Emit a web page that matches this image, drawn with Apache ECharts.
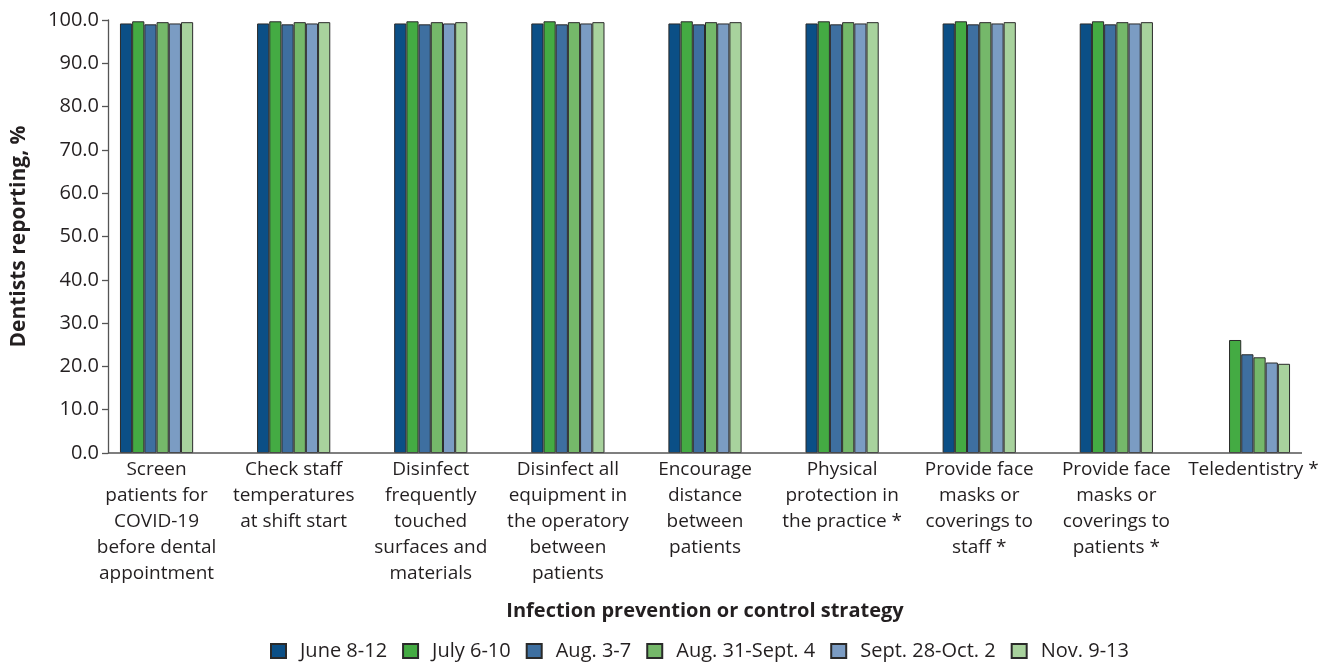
<!DOCTYPE html>
<html>
<head>
<meta charset="utf-8">
<script src="https://cdn.jsdelivr.net/npm/echarts@6/dist/echarts.min.js"></script>
<style>
html,body{margin:0;padding:0;background:#fff;}
#chart{width:1336px;height:662px;}
</style>
</head>
<body>
<div id="chart"></div>
<script>
const categories = [
  "Screen\npatients for\nCOVID-19\nbefore dental\nappointment",
  "Check staff\ntemperatures\nat shift start",
  "Disinfect\nfrequently\ntouched\nsurfaces and\nmaterials",
  "Disinfect all\nequipment in\nthe operatory\nbetween\npatients",
  "Encourage\ndistance\nbetween\npatients",
  "Physical\nprotection in\nthe practice *",
  "Provide face\nmasks or\ncoverings to\nstaff *",
  "Provide face\nmasks or\ncoverings to\npatients *",
  "Teledentistry *"
];
const seriesNames = ["June 8-12", "July 6-10", "Aug. 3-7", "Aug. 31-Sept. 4", "Sept. 28-Oct. 2", "Nov. 9-13"];
const june8_12   = [99.2, 99.2, 99.2, 99.2, 99.2, 99.2, 99.2, 99.2, null];
const july6_10   = [99.7, 99.7, 99.7, 99.7, 99.7, 99.7, 99.7, 99.7, 26.1];
const aug3_7     = [99.0, 99.0, 99.0, 99.0, 99.0, 99.0, 99.0, 99.0, 22.8];
const aug31_sep4 = [99.5, 99.5, 99.5, 99.5, 99.5, 99.5, 99.5, 99.5, 22.1];
const sep28_oct2 = [99.2, 99.2, 99.2, 99.2, 99.2, 99.2, 99.2, 99.2, 20.9];
const nov9_13    = [99.5, 99.5, 99.5, 99.5, 99.5, 99.5, 99.5, 99.5, 20.6];
const yTicks = [0, 10, 20, 30, 40, 50, 60, 70, 80, 90, 100];

const seriesData = [june8_12, july6_10, aug3_7, aug31_sep4, sep28_oct2, nov9_13];
const colors = ["#0b4f86", "#44ab43", "#3e6fa0", "#75b86a", "#7b9cc3", "#a8d29d"];
const FONT = "Open Sans";
const TXT = "#231f20";

const chart = echarts.init(document.getElementById('chart'), null, {renderer: 'canvas'});
const option = {
  backgroundColor: '#fff',
  animation: false,
  textStyle: {fontFamily: FONT, color: TXT},
  grid: {left: 88, right: 14, top: 20, bottom: 209, containLabel: false},
  legend: {
    top: 634,
    left: 270,
    padding: 0,
    itemWidth: 15,
    itemHeight: 14,
    itemGap: 15,
    icon: 'rect',
    formatter: name => '{t|' + name + '}',
    textStyle: {
      fontFamily: FONT, fontSize: 20, color: TXT, lineHeight: 34,
      rich: {t: {fontFamily: FONT, fontSize: 20, color: TXT, lineHeight: 34, padding: [0, 0, 0, 9]}}
    },
    data: seriesNames
  },
  xAxis: {
    type: 'category',
    data: categories,
    name: 'Infection prevention or control strategy',
    nameLocation: 'middle',
    nameGap: 148,
    nameTextStyle: {fontFamily: FONT, fontSize: 20, fontWeight: 'bold', color: TXT},
    axisLine: {show: false},
    axisTick: {show: false},
    axisLabel: {
      interval: 0,
      margin: 4,
      fontFamily: FONT,
      fontSize: 19,
      lineHeight: 26,
      color: TXT,
      align: 'center',
      verticalAlign: 'top'
    }
  },
  yAxis: {
    type: 'value',
    min: yTicks[0],
    max: yTicks[yTicks.length - 1],
    interval: 10,
    offset: -20,
    name: 'Dentists reporting, %',
    nameLocation: 'middle',
    nameGap: 78,
    nameTextStyle: {fontFamily: FONT, fontSize: 21, fontWeight: 'bold', color: TXT},
    axisLine: {show: true, lineStyle: {color: '#555', width: 1.3}},
    axisTick: {show: true, length: 6, lineStyle: {color: '#555', width: 1.3}},
    splitLine: {show: false},
    axisLabel: {
      margin: 9,
      fontFamily: FONT,
      fontSize: 20,
      color: TXT,
      formatter: v => v.toFixed(1)
    }
  },
  series: seriesNames.map((n, i) => ({
    name: n,
    type: 'bar',
    data: seriesData[i],
    barWidth: 12.2,
    barGap: '0%',
    itemStyle: {color: colors[i], borderColor: '#2a2a2a', borderWidth: 1}
  }))
};
chart.setOption(option);

// x-axis baseline from the y-axis line to the end of the last cluster region
const p0 = chart.convertToPixel({gridIndex: 0}, [0, 0]);
const gridRect = chart.getModel().getComponent('grid', 0).coordinateSystem.getRect();
const xStart = gridRect.x + 20;
const xEnd = gridRect.x + gridRect.width - 20;
chart.setOption({
  graphic: [{
    type: 'line',
    shape: {x1: xStart, y1: p0[1], x2: xEnd, y2: p0[1]},
    style: {stroke: '#555', lineWidth: 1.5},
    z: 10
  }]
});
</script>
</body>
</html>
